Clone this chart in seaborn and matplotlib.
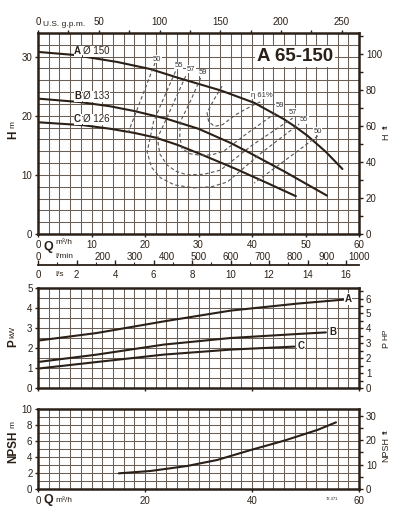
import numpy as np
import pandas as pd
import matplotlib
matplotlib.use("Agg")
import matplotlib.pyplot as plt
import seaborn as sns
from matplotlib.ticker import MultipleLocator, FixedLocator, NullFormatter

# ---------------- data ----------------
# Head curves, Q in m3/h, H in m
qA = [0, 6.6, 14.8, 21, 26.6, 34.1, 40.4, 46, 48, 50.4, 53.8, 56.9]
hA = [30.8, 30.3, 29.1, 27.9, 26.3, 24.3, 22.2, 19.4, 18.2, 16.6, 13.9, 11.0]
qB = [0, 8, 13.5, 18, 24, 30, 36, 39, 46, 54]
hB = [22.9, 22.3, 21.6, 20.8, 19.5, 17.8, 15.4, 14.0, 10.6, 6.5]
qC = [0, 8.5, 13.5, 18, 22, 26, 30.4, 37, 42.9, 48.2]
hC = [18.9, 18.4, 17.8, 17.1, 16.3, 15.1, 13.5, 11.0, 8.6, 6.4]

# Iso-efficiency curves (q, h)
e50L_q = [21.9, 19.3, 16.7]
e50L_h = [29.0, 22.9, 16.8]
e50R_q = [52.3, 46.4, 40.4]
e50R_h = [16.6, 12.6, 8.6]
e55_q = [25.7, 23.5, 21.6, 20.4, 21.2, 22.9, 25.5, 29.1, 32.5, 35.4, 42.0, 48.8]
e55_h = [27.5, 23.0, 19.0, 13.9, 11.3, 9.5, 8.3, 7.8, 8.0, 8.8, 13.9, 18.6]
e57_q = [27.6, 25.5, 23.5, 22.3, 22.8, 24.1, 25.8, 27.9, 31.0, 34.1, 40.0, 47.6]
e57_h = [26.7, 22.5, 18.5, 16.2, 13.5, 11.7, 10.6, 10.0, 10.1, 10.8, 15.0, 19.6]
e59_q = [30.4, 28.5, 26.6, 26.5, 26.9, 28.3, 30.4, 32.5, 34.7, 39.5, 44.8]
e59_h = [26.4, 22.5, 19.0, 16.5, 14.5, 13.6, 13.3, 13.4, 14.0, 17.3, 20.7]
e61_q = [34.4, 32.8, 31.6, 31.9, 33.0, 34.5, 37.0, 39.8, 41.9]
e61_h = [25.0, 22.6, 20.5, 19.0, 18.2, 18.5, 20.2, 21.6, 22.5]
eff_labels = ["50", "55", "57", "59", "\u03b7 61%", "59", "57", "55", "50"]
eff_lab_q = [22.3, 26.3, 28.6, 30.9, 41.8, 45.2, 47.7, 49.8, 52.3]
eff_lab_h = [29.6, 28.5, 27.9, 27.3, 23.5, 21.7, 20.6, 19.3, 17.4]

# Power curves, P in kW
pqA = [0, 11.0, 23.5, 36.0, 48.5, 57.2]
pA = [2.37, 2.75, 3.33, 3.87, 4.22, 4.42]
pqB = [0, 11.0, 23.5, 36.0, 48.5, 53.8]
pB = [1.30, 1.67, 2.17, 2.50, 2.70, 2.78]
pqC = [0, 11.0, 23.5, 36.0, 47.9]
pC = [0.97, 1.30, 1.67, 1.92, 2.07]

# NPSH curve, m
nq = [15.1, 21, 27.9, 33.5, 39.8, 46, 52.3, 55.7]
nh = [1.96, 2.25, 2.88, 3.63, 4.88, 6.04, 7.4, 8.33]

gpm_ticks = [0, 50, 100, 150, 200, 250]
q_ticks = [0, 10, 20, 30, 40, 50, 60]
lmin_ticks = [0, 200, 300, 400, 500, 600, 700, 800, 900, 1000]
ls_ticks = [0, 2, 4, 6, 8, 10, 12, 14, 16]

# ---------------- style ----------------
sns.set_theme(style="white")
plt.rcParams['font.family'] = ['Liberation Sans', 'DejaVu Sans']
INK = '#2a2018'
GRID = '#6a5e55'
plt.rcParams.update({'text.color': INK, 'xtick.color': INK, 'ytick.color': INK,
                     'axes.edgecolor': INK, 'xtick.labelsize': 7, 'ytick.labelsize': 7})

W, H = 405, 520
fig = plt.figure(figsize=(W / 100, H / 100), dpi=100)
fig.patch.set_facecolor('white')


def rect(l, t, r, b):
    return [l / W, 1 - b / H, (r - l) / W, (b - t) / H]


def ftxt(x, y, s, **kw):
    fig.text(x / W, 1 - y / H, s, **kw)


ax1 = fig.add_axes(rect(38, 33, 359, 234))
ax2 = fig.add_axes(rect(38, 288, 359, 388))
ax3 = fig.add_axes(rect(38, 409, 359, 489))


def base(ax, ylim, ymaj, ygrid, xmaj):
    ax.set_xlim(0, 60)
    ax.set_ylim(*ylim)
    ax.xaxis.set_major_locator(FixedLocator(xmaj))
    ax.xaxis.set_minor_locator(MultipleLocator(2))
    ax.yaxis.set_major_locator(MultipleLocator(ymaj))
    ax.yaxis.set_minor_locator(MultipleLocator(ygrid))
    ax.grid(which='both', color=GRID, lw=0.75)
    ax.set_axisbelow(True)
    for s in ax.spines.values():
        s.set_linewidth(1.8)
        s.set_color(INK)
    ax.tick_params(which='major', length=2, width=1, pad=2, direction='out',
                   bottom=True, left=True)
    ax.tick_params(which='minor', length=0)
    ax.set_xlabel('')
    ax.set_ylabel('')


def twin(ax, top, maj, mnr):
    r = ax.twinx()
    r.set_ylim(0, top)
    r.yaxis.set_major_locator(MultipleLocator(maj))
    r.yaxis.set_minor_locator(MultipleLocator(mnr))
    r.tick_params(which='both', right=True, left=False)
    r.tick_params(which='major', length=3, width=1, pad=2)
    r.tick_params(which='minor', length=3, width=1)
    r.grid(False)
    for s in r.spines.values():
        s.set_visible(False)
    return r


# ---------------- main head chart ----------------
base(ax1, (0, 34), 10, 2, q_ticks)
lc = dict(color=INK, lw=1.5, sort=False, estimator=None)
for qq, hh in [(qA, hA), (qB, hB), (qC, hC)]:
    sns.lineplot(x=qq, y=hh, ax=ax1, **lc)
dc = dict(color='#555555', lw=0.8, sort=False, estimator=None, linestyle=(0, (3.2, 2.2)))
for qq, hh in [(e50L_q, e50L_h), (e50R_q, e50R_h), (e55_q, e55_h), (e57_q, e57_h),
               (e59_q, e59_h), (e61_q, e61_h)]:
    sns.lineplot(x=qq, y=hh, ax=ax1, **dc)
for s, qq, hh in zip(eff_labels, eff_lab_q, eff_lab_h):
    ax1.text(qq, hh, s, fontsize=5.5, ha='center', va='center', color='#333333',
             bbox=dict(fc='white', ec='none', pad=0.3))
ax1.text(48, 30.0, "A 65-150", fontsize=13.5, fontweight='bold', ha='center', va='center',
         bbox=dict(fc='white', ec='none', pad=1.5))
for lab, dia, hh in [("A", "\u00d8 150", 30.9), ("B", "\u00d8 133", 23.3), ("C", "\u00d8 126", 19.4)]:
    ax1.text(6.75, hh, lab, fontsize=7, fontweight='bold', ha='left', va='center',
             bbox=dict(fc='white', ec='none', pad=0.3))
    ax1.text(8.5, hh, dia, fontsize=7, ha='left', va='center',
             bbox=dict(fc='white', ec='none', pad=0.3))
ax1r = twin(ax1, 34 * 3.28084, 20, 10)

# top gpm axis
sec_top = ax1.secondary_xaxis('top', functions=(lambda q: q * 4.4029, lambda g: g / 4.4029))
sec_top.xaxis.set_major_locator(FixedLocator(gpm_ticks))
sec_top.xaxis.set_minor_locator(FixedLocator([25, 75, 125, 175, 225]))
sec_top.tick_params(which='both', top=True)
sec_top.tick_params(which='major', length=2, width=1, pad=2.5, labelsize=7)
sec_top.tick_params(which='minor', length=2, width=1)
sec_top.spines['top'].set_visible(False)
ftxt(43, 24, "U.S. g.p.m.", fontsize=6, ha='left', va='center')

# l/min row (labels only)
sec_lmin = ax1.secondary_xaxis(-0.0796, functions=(lambda q: q * 1000 / 60, lambda l: l * 60 / 1000))
sec_lmin.xaxis.set_major_locator(FixedLocator(lmin_ticks))
sec_lmin.tick_params(length=0, pad=1.5, labelsize=7)
for sp in sec_lmin.spines.values():
    sp.set_visible(False)

# l/s axis (its own thin axes; the axis line is its bottom spine)
ax_ls = fig.add_axes(rect(38, 258, 359, 264.5))
ax_ls.set_zorder(10)
ax_ls.set_xlim(0, 60 / 3.6)
ax_ls.set_ylim(0, 1)
ax_ls.patch.set_visible(False)
ax_ls.set_yticks([])
ax_ls.grid(False)
for nm in ['top', 'left', 'right']:
    ax_ls.spines[nm].set_visible(False)
ax_ls.spines['bottom'].set_visible(True)
ax_ls.spines['bottom'].set_linewidth(1.3)
ax_ls.spines['bottom'].set_color(INK)
ax_ls.xaxis.set_major_locator(FixedLocator(ls_ticks))
ax_ls.xaxis.set_minor_locator(FixedLocator([1, 3, 5, 7, 9, 11, 13, 15]))
ax_ls.tick_params(which='both', bottom=True, top=False, direction='in', color=INK)
ax_ls.tick_params(which='major', length=3.5, width=1, pad=4, labelsize=7)
ax_ls.tick_params(which='minor', length=2.5, width=0.8)

ftxt(48, 247, "Q", fontsize=9, fontweight='bold', ha='center', va='center')
ftxt(55, 243, "m\u00b3/h", fontsize=6, ha='left', va='center')
ftxt(55, 256, "l/min", fontsize=6, ha='left', va='center')
ftxt(55, 274, "l/s", fontsize=6, ha='left', va='center')

# axis titles main
ftxt(13, 135, "H", fontsize=8.5, fontweight='bold', rotation=90, ha='center', va='center')
ftxt(13, 124, "m", fontsize=6, rotation=90, ha='center', va='center')
ftxt(386, 137, "H", fontsize=6.5, rotation=90, ha='center', va='center')
ftxt(386, 127, "ft", fontsize=6, rotation=90, ha='center', va='center')

# ---------------- power chart ----------------
base(ax2, (0, 5), 1, 0.5, [0, 20, 40, 60])
ax2.xaxis.set_major_formatter(NullFormatter())
for qq, pp in [(pqA, pA), (pqB, pB), (pqC, pC)]:
    sns.lineplot(x=qq, y=pp, ax=ax2, **lc)
for lab, qq, pp in [("A", 58.0, 4.45), ("B", 55.1, 2.82), ("C", 49.1, 2.08)]:
    ax2.text(qq, pp, lab, fontsize=7, fontweight='bold', ha='center', va='center',
             bbox=dict(fc='white', ec='none', pad=0.4))
ax2r = twin(ax2, 5 / 0.7457, 1, 0.5)
ftxt(13, 343, "P", fontsize=8.5, fontweight='bold', rotation=90, ha='center', va='center')
ftxt(13, 332, "kW", fontsize=6, rotation=90, ha='center', va='center')
ftxt(386, 345, "P", fontsize=6.5, rotation=90, ha='center', va='center')
ftxt(386, 334, "HP", fontsize=6, rotation=90, ha='center', va='center')

# ---------------- NPSH chart ----------------
base(ax3, (0, 10), 2, 1, [0, 20, 40, 60])
ax3.tick_params(axis='x', which='major', pad=3)
sns.lineplot(x=nq, y=nh, ax=ax3, **lc)
ax3r = twin(ax3, 10 * 3.28084, 10, 5)
ftxt(13, 447, "NPSH", fontsize=8.5, fontweight='bold', rotation=90, ha='center', va='center')
ftxt(13, 425, "m", fontsize=6, rotation=90, ha='center', va='center')
ftxt(386, 450, "NPSH", fontsize=6.5, rotation=90, ha='center', va='center')
ftxt(386, 432, "ft", fontsize=6, rotation=90, ha='center', va='center')
ftxt(48, 500, "Q", fontsize=9, fontweight='bold', ha='center', va='center')
ftxt(55, 500, "m\u00b3/h", fontsize=6, ha='left', va='center')
ftxt(332, 498.5, "72.371", fontsize=3, ha='center', va='center')

fig.savefig("out.png", dpi=100, facecolor='white')
